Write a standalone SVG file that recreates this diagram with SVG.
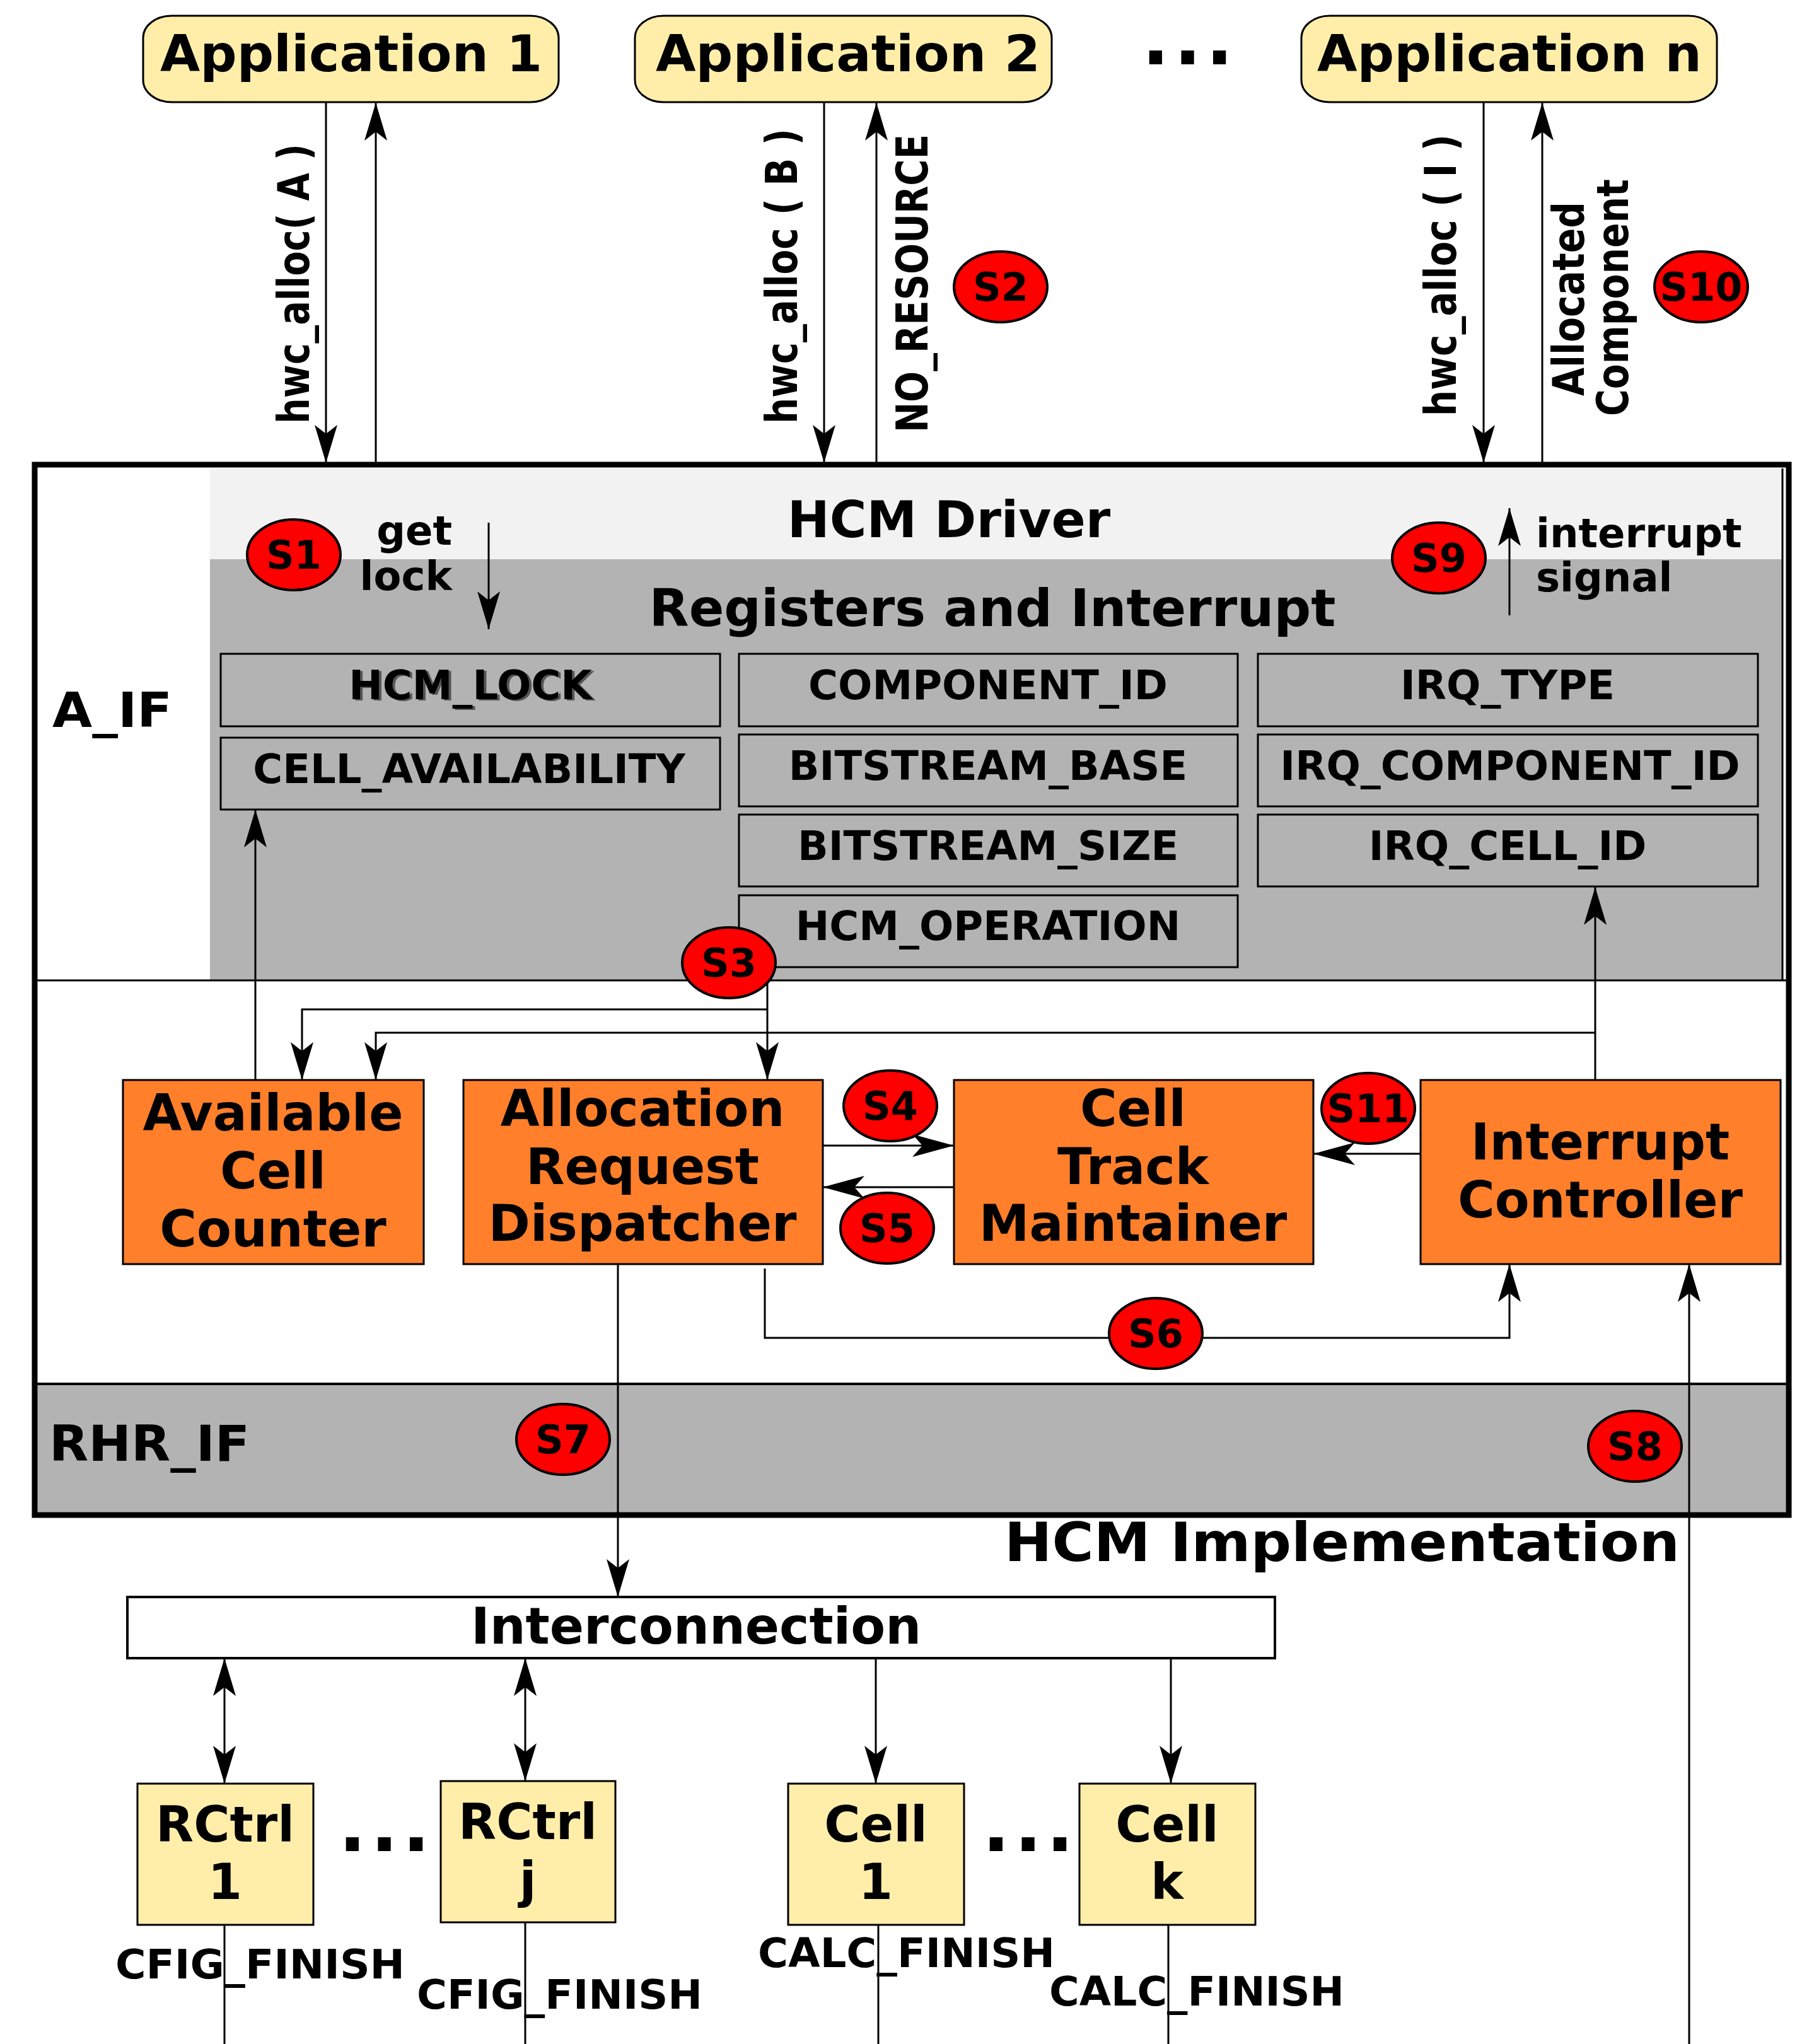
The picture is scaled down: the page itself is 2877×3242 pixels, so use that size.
<svg xmlns="http://www.w3.org/2000/svg" width="2877" height="3242" viewBox="0 0 2877 3242">
<style>
text{font-family:"DejaVu Sans","Liberation Sans",sans-serif;font-weight:bold;fill:#000}
.app{fill:#ffeeaa;stroke:#000;stroke-width:3}
.reg{fill:#b3b3b3;stroke:#000;stroke-width:3}
.blk{fill:#ff7f2a;stroke:#000;stroke-width:3}
.unit{fill:#ffeeaa;stroke:#000;stroke-width:3}
.s{fill:#ff0000;stroke:#000;stroke-width:4}
.st{font-size:62px;text-anchor:middle}
.rt{font-size:64px;text-anchor:middle}
.bt{font-size:80px;text-anchor:middle}
.ut{font-size:78px;text-anchor:middle}
.vt{font-size:70px}
.ln{fill:none;stroke:#000;stroke-width:3}
.small{font-size:64px}
.dots{font-size:115px;letter-spacing:7px}
</style>
<defs>
<marker id="ah" markerUnits="userSpaceOnUse" orient="auto" refX="0" refY="0" markerWidth="70" markerHeight="40" overflow="visible">
<path d="M0,0 L-60,-18 L-46,0 L-60,18 Z" fill="#000"/>
</marker>
<marker id="ahs" markerUnits="userSpaceOnUse" orient="auto-start-reverse" refX="0" refY="0" markerWidth="70" markerHeight="40" overflow="visible">
<path d="M0,0 L-60,-18 L-46,0 L-60,18 Z" fill="#000"/>
</marker>
<marker id="ahw" markerUnits="userSpaceOnUse" orient="auto" refX="0" refY="0" markerWidth="70" markerHeight="40" overflow="visible">
<path d="M0,0 L-66,-18 L-50,0 L-66,18 Z" fill="#000"/>
</marker>
</defs>

<!-- HCM implementation frame background -->
<g id="hcm_frame">
<rect x="55" y="737" width="2782" height="1666" fill="#fff"/>
<rect x="333" y="743" width="2494" height="144" fill="#f2f2f2"/>
<rect x="333" y="887" width="2494" height="668" fill="#b3b3b3"/>
<line x1="2827" y1="743" x2="2827" y2="1555" stroke="#000" stroke-width="3"/>
<line x1="55" y1="1555" x2="2837" y2="1555" stroke="#000" stroke-width="3"/>
<rect x="55" y="2195" width="2782" height="208" fill="#b3b3b3"/>
<line x1="55" y1="2195" x2="2837" y2="2195" stroke="#000" stroke-width="4"/>
<rect x="55" y="737" width="2782" height="1666" fill="none" stroke="#000" stroke-width="9"/>
<text x="83" y="1153" font-size="76px" textLength="190" lengthAdjust="spacingAndGlyphs">A_IF</text>
<text x="78" y="2317" font-size="78px" textLength="318" lengthAdjust="spacingAndGlyphs">RHR_IF</text>
<text x="1593" y="2476" font-size="86px" textLength="1071" lengthAdjust="spacingAndGlyphs">HCM Implementation</text>
<text x="1505" y="852" font-size="80px" text-anchor="middle">HCM Driver</text>
<text x="1574" y="993" font-size="82px" text-anchor="middle">Registers and Interrupt</text>
<text x="717" y="864" class="small" text-anchor="end">get</text>
<text x="717" y="936" class="small" text-anchor="end">lock</text>
<text x="2436" y="868" class="small">interrupt</text>
<text x="2436" y="938" class="small">signal</text>
</g>

<!-- Applications -->
<g id="app1">
<rect class="app" x="227" y="25" width="659" height="137" rx="45" ry="35"/>
<text x="557" y="113" font-size="80px" text-anchor="middle" textLength="606" lengthAdjust="spacingAndGlyphs">Application 1</text>
</g>
<g id="app2">
<rect class="app" x="1007" y="25" width="661" height="137" rx="45" ry="35"/>
<text x="1345" y="113" font-size="80px" text-anchor="middle" textLength="610" lengthAdjust="spacingAndGlyphs">Application 2</text>
</g>
<text class="dots" x="1811" y="102">...</text>
<g id="appn">
<rect class="app" x="2064" y="25" width="659" height="137" rx="45" ry="35"/>
<text x="2394" y="113" font-size="80px" text-anchor="middle" textLength="610" lengthAdjust="spacingAndGlyphs">Application n</text>
</g>

<!-- Registers -->
<g id="reg_hcm_lock">
<rect class="reg" x="350" y="1037" width="792" height="115"/>
<text class="rt" x="750" y="1111" style="fill:#555">HCM_LOCK</text>
<text class="rt" x="746" y="1109">HCM_LOCK</text>
</g>
<g id="reg_cell_availability">
<rect class="reg" x="350" y="1170" width="792" height="114"/>
<text class="rt" x="744" y="1242">CELL_AVAILABILITY</text>
</g>
<g id="reg_component_id">
<rect class="reg" x="1172" y="1037" width="791" height="115"/>
<text class="rt" x="1567" y="1109">COMPONENT_ID</text>
</g>
<g id="reg_bitstream_base">
<rect class="reg" x="1172" y="1165" width="791" height="114"/>
<text class="rt" x="1567" y="1237">BITSTREAM_BASE</text>
</g>
<g id="reg_bitstream_size">
<rect class="reg" x="1172" y="1292" width="791" height="114"/>
<text class="rt" x="1567" y="1364">BITSTREAM_SIZE</text>
</g>
<g id="reg_hcm_operation">
<rect class="reg" x="1172" y="1420" width="791" height="114"/>
<text class="rt" x="1567" y="1491">HCM_OPERATION</text>
</g>
<g id="reg_irq_type">
<rect class="reg" x="1995" y="1037" width="793" height="115"/>
<text class="rt" x="2391" y="1109">IRQ_TYPE</text>
</g>
<g id="reg_irq_component_id">
<rect class="reg" x="1995" y="1165" width="793" height="114"/>
<text class="rt" x="2395" y="1237">IRQ_COMPONENT_ID</text>
</g>
<g id="reg_irq_cell_id">
<rect class="reg" x="1995" y="1292" width="793" height="114"/>
<text class="rt" x="2391" y="1364">IRQ_CELL_ID</text>
</g>

<!-- Functional blocks -->
<g id="available_cell_counter">
<rect class="blk" x="195" y="1713" width="477" height="292"/>
<text class="bt" x="433" y="1793">Available</text>
<text class="bt" x="433" y="1885">Cell</text>
<text class="bt" x="433" y="1977">Counter</text>
</g>
<g id="allocation_request_dispatcher">
<rect class="blk" x="735" y="1713" width="570" height="292"/>
<text class="bt" x="1019" y="1786">Allocation</text>
<text class="bt" x="1019" y="1878">Request</text>
<text class="bt" x="1019" y="1968">Dispatcher</text>
</g>
<g id="cell_track_maintainer">
<rect class="blk" x="1513" y="1713" width="570" height="292"/>
<text class="bt" x="1797" y="1786">Cell</text>
<text class="bt" x="1797" y="1878">Track</text>
<text class="bt" x="1797" y="1968">Maintainer</text>
</g>
<g id="interrupt_controller">
<rect class="blk" x="2253" y="1713" width="571" height="292"/>
<text class="bt" x="2538" y="1839">Interrupt</text>
<text class="bt" x="2538" y="1931">Controller</text>
</g>

<!-- Interconnection and units -->
<g id="interconnection">
<rect x="202" y="2533" width="1820" height="97" fill="#fff" stroke="#000" stroke-width="4"/>
<text x="1104" y="2607" font-size="80px" text-anchor="middle">Interconnection</text>
</g>
<g id="rctrl1">
<rect class="unit" x="218" y="2829" width="279" height="224"/>
<text class="ut" x="357" y="2921">RCtrl</text>
<text class="ut" x="357" y="3012">1</text>
</g>
<text class="dots" x="537" y="2936">...</text>
<g id="rctrlj">
<rect class="unit" x="699" y="2825" width="277" height="224"/>
<text class="ut" x="837" y="2917">RCtrl</text>
<text class="ut" x="837" y="3009">j</text>
</g>
<g id="cell1">
<rect class="unit" x="1250" y="2829" width="279" height="224"/>
<text class="ut" x="1389" y="2921">Cell</text>
<text class="ut" x="1389" y="3012">1</text>
</g>
<text class="dots" x="1558" y="2936">...</text>
<g id="cellk">
<rect class="unit" x="1712" y="2829" width="279" height="224"/>
<text class="ut" x="1851" y="2921">Cell</text>
<text class="ut" x="1851" y="3012">k</text>
</g>

<!-- Connectors -->
<g id="connectors">
<path class="ln" d="M517,163 V734" marker-end="url(#ah)"/>
<path class="ln" d="M596,734 V163" marker-end="url(#ah)"/>
<path class="ln" d="M1307,163 V734" marker-end="url(#ah)"/>
<path class="ln" d="M1390,734 V163" marker-end="url(#ah)"/>
<path class="ln" d="M2353,163 V734" marker-end="url(#ah)"/>
<path class="ln" d="M2446,734 V163" marker-end="url(#ah)"/>
<path class="ln" d="M775,829 V998" marker-end="url(#ah)"/>
<path class="ln" d="M2394,976 V806" marker-end="url(#ah)"/>
<path class="ln" d="M405,1713 V1284" marker-end="url(#ah)"/>
<path class="ln" d="M1217,1556 V1713" marker-end="url(#ah)"/>
<path class="ln" d="M1217,1601 H479 V1713" marker-end="url(#ah)"/>
<path class="ln" d="M2530,1713 V1407" marker-end="url(#ah)"/>
<path class="ln" d="M2530,1638 H596 V1713" marker-end="url(#ah)"/>
<path class="ln" d="M1305,1817 H1513" marker-end="url(#ahw)"/>
<path class="ln" d="M1513,1883 H1305" marker-end="url(#ahw)"/>
<path class="ln" d="M2253,1830 H2083" marker-end="url(#ahw)"/>
<path class="ln" d="M1213,2012 V2122 H2394 V2005" marker-end="url(#ah)"/>
<path class="ln" d="M980,2005 V2533" marker-end="url(#ah)"/>
<path class="ln" d="M2679,3242 V2005" marker-end="url(#ah)"/>
<path class="ln" d="M356,2630 V2829" marker-start="url(#ahs)" marker-end="url(#ahs)"/>
<path class="ln" d="M833,2630 V2825" marker-start="url(#ahs)" marker-end="url(#ahs)"/>
<path class="ln" d="M1389,2630 V2829" marker-end="url(#ah)"/>
<path class="ln" d="M1857,2630 V2829" marker-end="url(#ah)"/>
<path class="ln" d="M356,3053 V3242"/>
<path class="ln" d="M833,3049 V3242"/>
<path class="ln" d="M1393,3053 V3242"/>
<path class="ln" d="M1853,3053 V3242"/>
</g>

<!-- Connector labels -->
<g id="labels">
<text class="vt" transform="translate(490,672) rotate(-90)" textLength="444" lengthAdjust="spacingAndGlyphs">hwc_alloc( A )</text>
<text class="vt" transform="translate(1264,672) rotate(-90)" textLength="468" lengthAdjust="spacingAndGlyphs">hwc_alloc ( B )</text>
<text class="vt" transform="translate(1471,686) rotate(-90)" textLength="473" lengthAdjust="spacingAndGlyphs">NO_RESOURCE</text>
<text class="vt" transform="translate(2309,660) rotate(-90)" textLength="447" lengthAdjust="spacingAndGlyphs">hwc_alloc ( I )</text>
<text class="vt" transform="translate(2512,474) rotate(-90)" text-anchor="middle" textLength="308" lengthAdjust="spacingAndGlyphs">Allocated</text>
<text class="vt" transform="translate(2582,472) rotate(-90)" text-anchor="middle" textLength="376" lengthAdjust="spacingAndGlyphs">Component</text>
<text class="small" x="183" y="3138" textLength="459" lengthAdjust="spacingAndGlyphs">CFIG_FINISH</text>
<text class="small" x="661" y="3186" textLength="453" lengthAdjust="spacingAndGlyphs">CFIG_FINISH</text>
<text class="small" x="1202" y="3120" textLength="471" lengthAdjust="spacingAndGlyphs">CALC_FINISH</text>
<text class="small" x="1664" y="3181" textLength="468" lengthAdjust="spacingAndGlyphs">CALC_FINISH</text>
</g>

<!-- Step markers -->
<g id="s1"><ellipse class="s" cx="466" cy="880" rx="74" ry="56"/><text class="st" x="466" y="902">S1</text></g>
<g id="s2"><ellipse class="s" cx="1587" cy="455" rx="74" ry="56"/><text class="st" x="1587" y="477">S2</text></g>
<g id="s3"><ellipse class="s" cx="1156" cy="1527" rx="74" ry="56"/><text class="st" x="1156" y="1549">S3</text></g>
<g id="s4"><ellipse class="s" cx="1412" cy="1754" rx="74" ry="56"/><text class="st" x="1412" y="1776">S4</text></g>
<g id="s5"><ellipse class="s" cx="1407" cy="1948" rx="74" ry="56"/><text class="st" x="1407" y="1970">S5</text></g>
<g id="s6"><ellipse class="s" cx="1833" cy="2115" rx="74" ry="56"/><text class="st" x="1833" y="2137">S6</text></g>
<g id="s7"><ellipse class="s" cx="893" cy="2283" rx="74" ry="56"/><text class="st" x="893" y="2305">S7</text></g>
<g id="s8"><ellipse class="s" cx="2593" cy="2294" rx="74" ry="56"/><text class="st" x="2593" y="2316">S8</text></g>
<g id="s9"><ellipse class="s" cx="2282" cy="885" rx="74" ry="56"/><text class="st" x="2282" y="907">S9</text></g>
<g id="s10"><ellipse class="s" cx="2698" cy="455" rx="74" ry="56"/><text class="st" x="2698" y="477">S10</text></g>
<g id="s11"><ellipse class="s" cx="2170" cy="1758" rx="74" ry="56"/><text class="st" x="2170" y="1780">S11</text></g>
</svg>
